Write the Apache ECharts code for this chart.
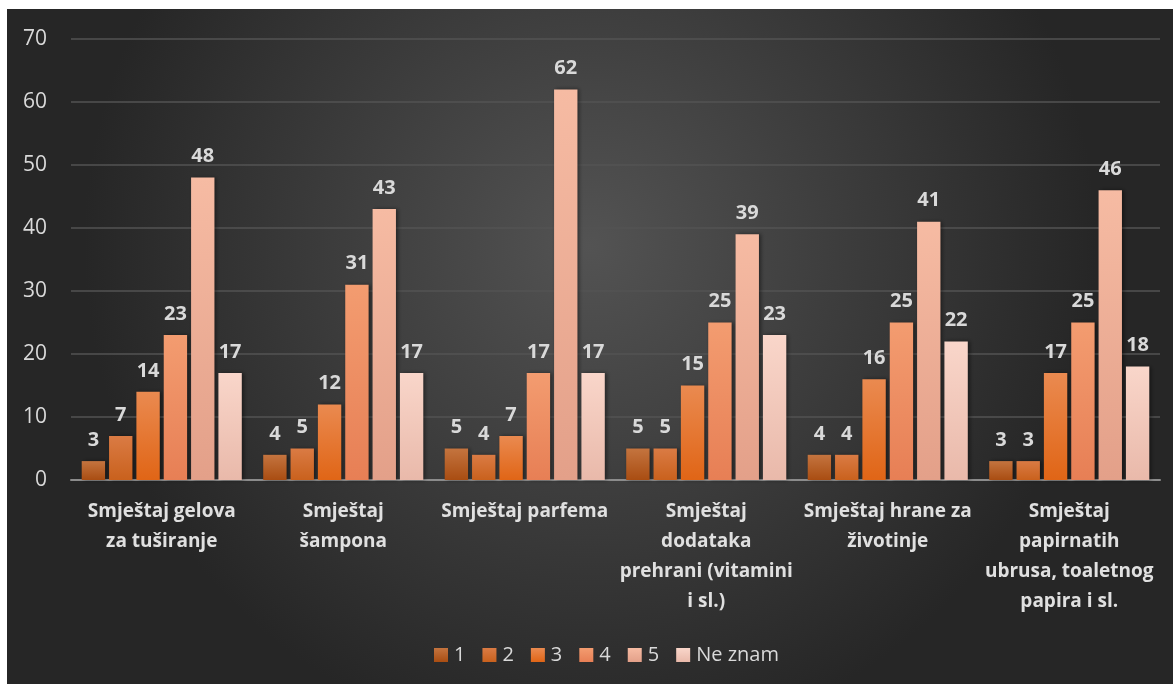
<!DOCTYPE html>
<html><head><meta charset="utf-8">
<script src="https://cdn.jsdelivr.net/npm/echarts@6/dist/echarts.min.js"></script>
<style>
html,body{margin:0;padding:0;background:#fff;width:1173px;height:684px;overflow:hidden;}
#c{position:absolute;left:7px;top:9px;width:1166px;height:675px;}
</style></head>
<body><div id="c"></div>
<script>
const categories = [
  "Smještaj gelova\nza tuširanje",
  "Smještaj\nšampona",
  "Smještaj parfema",
  "Smještaj\ndodataka\nprehrani (vitamini\ni sl.)",
  "Smještaj hrane za\nživotinje",
  "Smještaj\npapirnatih\nubrusa, toaletnog\npapira i sl."
];
const seriesNames = ["1", "2", "3", "4", "5", "Ne znam"];
const s1 = [3, 4, 5, 5, 4, 3];
const s2 = [7, 5, 4, 5, 4, 3];
const s3 = [14, 12, 7, 15, 16, 17];
const s4 = [23, 31, 17, 25, 25, 25];
const s5 = [48, 43, 62, 39, 41, 46];
const sNZ = [17, 17, 17, 23, 22, 18];
const yTicks = [0, 10, 20, 30, 40, 50, 60, 70];

const values = [s1, s2, s3, s4, s5, sNZ];
const colorPairs = [
  ["#c4743f", "#a94d12"],
  ["#da7b44", "#c9611d"],
  ["#ea8a50", "#e06516"],
  ["#f39c70", "#e77f55"],
  ["#f6bba3", "#e3a089"],
  ["#f9d6ca", "#e9b9aa"]
];
function grad(p){return new echarts.graphic.LinearGradient(0,0,0,1,[{offset:0,color:p[0]},{offset:1,color:p[1]}]);}

const chart = echarts.init(document.getElementById('c'));
chart.setOption({
  backgroundColor: new echarts.graphic.RadialGradient(0.5, 0.35, 0.75, [
    {offset:0, color:'#535353'}, {offset:1, color:'#262626'}
  ]),
  animation:false,
  textStyle:{fontFamily:'"Open Sans", "Noto Sans", sans-serif'},
  grid:{left:64, right:13, top:30, bottom:204},
  legend:{
    bottom:14, left:422, itemWidth:14, itemHeight:14, itemGap:17, icon:'rect',
    data:seriesNames,
    textStyle:{color:'#d9d9d9', fontSize:20, padding:[0,0,0,1]}
  },
  xAxis:{
    type:'category', data:categories,
    axisLine:{lineStyle:{color:'#8c8c8c', width:2}},
    axisTick:{show:false},
    axisLabel:{color:'#e0e0e0', fontSize:19, fontWeight:'bold', lineHeight:30, margin:17, interval:0}
  },
  yAxis:{
    type:'value', min:yTicks[0], max:yTicks[yTicks.length-1], interval:10,
    axisLine:{show:false}, axisTick:{show:false},
    splitLine:{lineStyle:{color:'#535353', width:1.5}},
    axisLabel:{color:'#d9d9d9', fontSize:21, margin:24}
  },
  series: seriesNames.map((n,i)=>({
    name:n, type:'bar', data:values[i],
    barGap:'17%', barCategoryGap:'11.8%',
    itemStyle:{color:grad(colorPairs[i]), shadowBlur:4, shadowColor:'rgba(0,0,0,0.45)', shadowOffsetX:2, shadowOffsetY:0},
    label:{show:true, position:'top', distance:11, color:'#d9d9d9', fontSize:20, fontWeight:'bold'}
  }))
});
</script></body></html>
